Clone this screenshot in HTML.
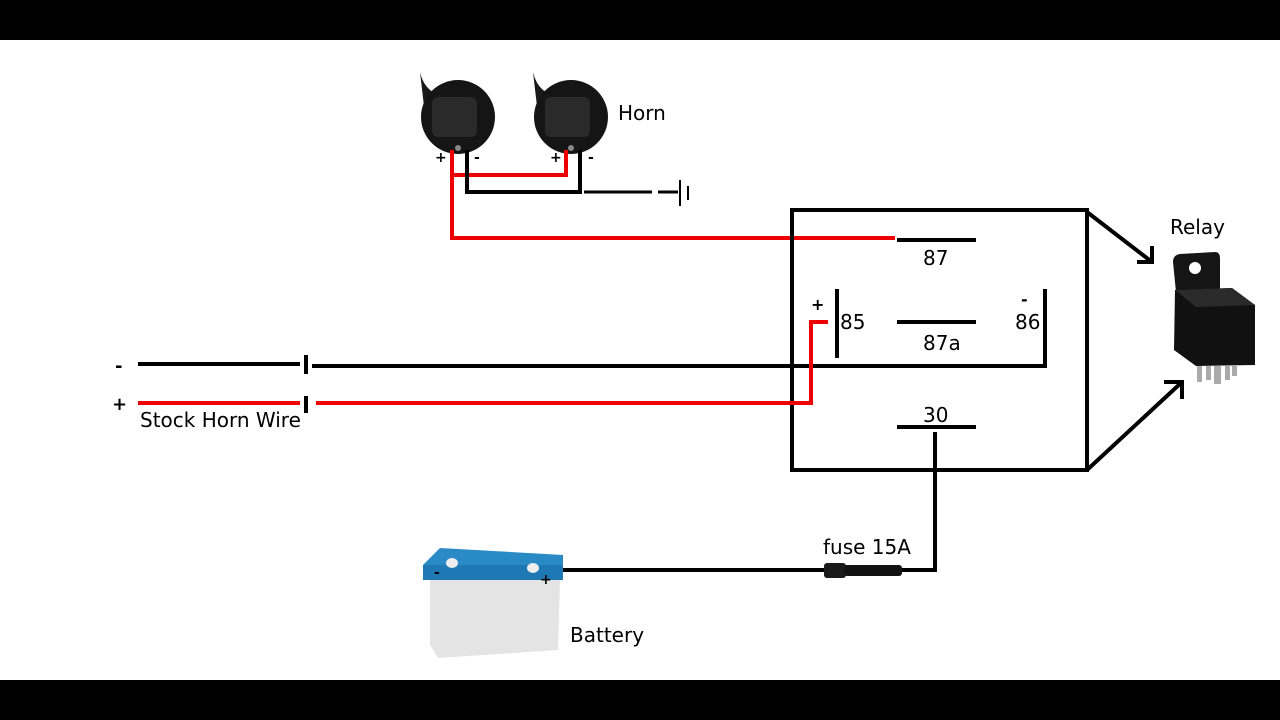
<!DOCTYPE html>
<html><head><meta charset="utf-8"><style>
html,body{margin:0;padding:0;background:#fff;}
</style></head><body>
<svg width="1280" height="720" viewBox="0 0 1280 720" xmlns="http://www.w3.org/2000/svg" style="display:block">
<rect width="1280" height="720" fill="#fff"/>
<rect x="0" y="0" width="1280" height="40" fill="#000"/>
<rect x="0" y="680" width="1280" height="40" fill="#000"/>
<g font-family="'Comic Sans MS','DejaVu Sans','Liberation Sans',sans-serif" font-size="20" fill="#000">
<!-- horns -->
<g id="h1">
<path d="M420 72 Q425 95 450 98 L450 110 L425 115 Z" fill="#1a1a1a"/>
<circle cx="458" cy="117" r="37" fill="#151515"/>
<rect x="432" y="97" width="45" height="40" rx="6" fill="#2a2a2a"/>
<circle cx="458" cy="148" r="3" fill="#888"/>
</g>
<use href="#h1" x="113"/>
<text x="618" y="120">Horn</text>
<g font-size="14" font-weight="bold"><text x="435" y="162">+</text><text x="474" y="162">-</text><text x="550" y="162">+</text><text x="588" y="162">-</text></g>
<g fill="none" stroke-width="4">
<path d="M452 150 V238 H895" stroke="#e00"/>
<path d="M452 175 H566 V150" stroke="#e00"/>
<path d="M467 150 V192 H580 V150" stroke="#000"/>
<path d="M584 192 H652 M658 192 H678" stroke="#000" stroke-width="3"/>
</g>
<path d="M680 180 V206 M688 186 V200" stroke="#000" stroke-width="2"/>
<!-- relay box -->
<rect x="792" y="210" width="295" height="260" fill="none" stroke="#000" stroke-width="4"/>
<g stroke="#000" stroke-width="4">
<line x1="897" y1="240" x2="976" y2="240"/>
<line x1="897" y1="322" x2="976" y2="322"/>
<line x1="897" y1="427" x2="976" y2="427"/>
<line x1="837" y1="289" x2="837" y2="358"/>
<line x1="1045" y1="289" x2="1045" y2="368"/>
</g>
<text x="923" y="265">87</text>
<text x="923" y="350">87a</text>
<text x="923" y="422">30</text>
<text x="840" y="329">85</text>
<text x="1015" y="329">86</text>
<text x="811" y="310" font-size="16" font-weight="bold">+</text>
<text x="1021" y="305" font-size="16" font-weight="bold">-</text>
<!-- arrows -->
<g stroke="#000" stroke-width="4" fill="none">
<path d="M1087 212 L1152 262 M1137 262 H1152 V246"/>
<path d="M1087 470 L1182 382 M1164 382 H1182 V399"/>
</g>
<text x="1170" y="234">Relay</text>
<!-- relay image -->
<path d="M1173 262 Q1173 255 1180 254 L1215 252 Q1220 252 1220 258 L1220 290 L1176 292 Z" fill="#151515"/>
<circle cx="1195" cy="268" r="6" fill="#fff"/>
<path d="M1175 290 L1232 288 L1255 305 L1255 365 L1196 366 L1174 350 Z" fill="#111"/>
<path d="M1175 290 L1232 288 L1255 305 L1196 307 Z" fill="#2a2a2a"/>
<g fill="#aaa"><rect x="1197" y="366" width="5" height="16"/><rect x="1206" y="366" width="5" height="14"/><rect x="1214" y="366" width="7" height="18"/><rect x="1225" y="366" width="5" height="14"/><rect x="1232" y="366" width="5" height="10"/></g>
<!-- wires -->
<g fill="none" stroke-width="4">
<path d="M138 364 H300 M312 366 H1047" stroke="#000"/>
<path d="M306 355 V374 M306 396 V413" stroke="#000" stroke-width="4"/>
<path d="M138 403 H300" stroke="#e00"/>
<path d="M316 403 H811 V322 H828" stroke="#e00"/>
<path d="M935 432 V570 H898 M540 570 H825" stroke="#000"/>
</g>
<text x="115" y="372" font-size="18" font-weight="bold">-</text>
<text x="112" y="410" font-size="18" font-weight="bold">+</text>
<text x="140" y="427">Stock Horn Wire</text>
<!-- fuse -->
<rect x="824" y="563" width="22" height="15" rx="3" fill="#1a1a1a"/>
<rect x="844" y="565" width="58" height="11" rx="3" fill="#111"/>
<text x="823" y="554">fuse 15A</text>
<!-- battery -->
<path d="M430 580 L560 580 L558 650 L438 658 L430 645 Z" fill="#e4e4e4"/>
<path d="M423 565 L440 548 L563 555 L563 580 L423 580 Z" fill="#2a8ac6"/>
<rect x="423" y="565" width="140" height="15" fill="#1e78b4"/>
<ellipse cx="452" cy="563" rx="6" ry="5" fill="#eee"/>
<ellipse cx="533" cy="568" rx="6" ry="5" fill="#eee"/>
<text x="434" y="577" font-size="14" font-weight="bold">-</text>
<text x="540" y="584" font-size="14" font-weight="bold">+</text>
<text x="570" y="642">Battery</text>
</g>
</svg>
</body></html>
